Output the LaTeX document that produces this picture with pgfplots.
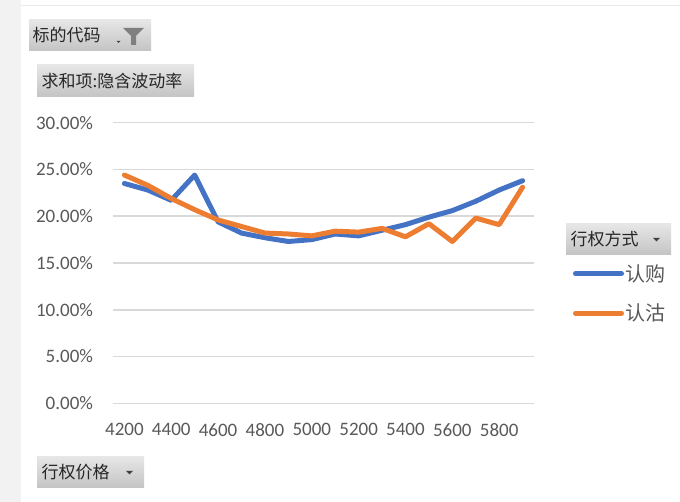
\documentclass[border=0pt]{standalone}
\usepackage{pgfplots}
\pgfplotsset{compat=1.18}
\usepackage{fontspec}
\setmainfont{Carlito}
\newfontfamily\cjk{Noto Sans CJK SC}
\definecolor{cblue}{HTML}{4472C4}
\definecolor{corange}{HTML}{ED7D31}
\definecolor{tickgray}{HTML}{595959}
\definecolor{gridgray}{HTML}{D9D9D9}
\definecolor{btntop}{HTML}{E6E6E6}
\definecolor{btnbot}{HTML}{C4C4C4}
\definecolor{btntext}{HTML}{262626}
\definecolor{strip}{HTML}{F2F2F2}
\definecolor{icongray}{HTML}{7F7F7F}
\definecolor{arrowgray}{HTML}{404040}

\pgfplotstableread{
x call put
4200 23.5 24.4
4300 22.8 23.3
4400 21.7 21.9
4500 24.4 20.7
4600 19.4 19.6
4700 18.2 18.9
4800 17.7 18.2
4900 17.3 18.1
5000 17.5 17.9
5100 18.1 18.4
5200 17.9 18.3
5300 18.5 18.7
5400 19.1 17.8
5500 19.9 19.2
5600 20.6 17.3
5700 21.6 19.8
5800 22.8 19.1
5900 23.8 23.1
}\ivdata

\begin{document}
\begin{tikzpicture}[x=1pt,y=1pt]
\useasboundingbox (0,0) rectangle (680,502);
\fill[white] (0,0) rectangle (680,502);
\fill[strip] (0,0) rectangle (20.7,502);
\draw[line width=1pt, color=black!8] (20.7,496) -- (680,496);
% button 1
\shade[top color=btntop, bottom color=btnbot] (29,451) rectangle (151,482);
\node[anchor=west, inner sep=0, text=btntext, font=\cjk\fontsize{17pt}{20pt}\selectfont] at (32.5,466.5) {标的代码};
\fill[icongray] (123,474) -- (144,474) -- (136,466) -- (136,457) -- (131,457) -- (131,466) -- cycle;
\fill[arrowgray] (116.5,461) -- (120.5,461) -- (118.5,459) -- cycle;
% button 2
\shade[top color=btntop, bottom color=btnbot] (37,405) rectangle (194,437);
\node[anchor=west, inner sep=0, text=btntext, font=\cjk\fontsize{17pt}{20pt}\selectfont] at (41.5,421) {求和项:隐含波动率};
% button 3
\shade[top color=btntop, bottom color=btnbot] (37,14) rectangle (144,45);
\node[anchor=west, inner sep=0, text=btntext, font=\cjk\fontsize{17pt}{20pt}\selectfont] at (41.5,29.5) {行权价格};
\fill[arrowgray] (126,31) -- (133,31) -- (129.5,27.5) -- cycle;
% button 4
\shade[top color=btntop, bottom color=btnbot] (566,247) rectangle (671,278);
\node[anchor=west, inner sep=0, text=btntext, font=\cjk\fontsize{17pt}{20pt}\selectfont] at (570.5,262.5) {行权方式};
\fill[arrowgray] (653,264) -- (660,264) -- (656.5,260.5) -- cycle;

\begin{axis}[
  at={(112.7pt,98.7pt)}, anchor=south west,
  scale only axis, width=421.6pt, height=280.6pt,
  xmin=4150, xmax=5950, ymin=0, ymax=30,
  axis line style={draw=none},
  xtick={4200,4400,...,5800},
  xticklabels={4200,4400,4600,4800,5000,5200,5400,5600,5800},
  ytick={0,5,...,30},
  yticklabels={0.00\%,5.00\%,10.00\%,15.00\%,20.00\%,25.00\%,30.00\%},
  major tick length=0pt,
  tick style={draw=none},
  ymajorgrids,
  grid style={gridgray, line width=1.5pt},
  tick label style={font=\fontsize{19pt}{22pt}\selectfont, text=tickgray, inner sep=0pt},
  yticklabel style={anchor=east, xshift=-19.5pt},
  xticklabel style={anchor=center, yshift=-26.5pt},
  /pgf/number format/assume math mode=true,
  clip=false,
  legend style={draw=none, fill=none, inner sep=0pt, outer sep=0pt,
    at={(axis description cs:1.0918,0.3913)}, anchor=west,
    row sep=21pt, column sep=1pt,
    nodes={inner sep=0pt, text=tickgray, font=\cjk\fontsize{20pt}{24pt}\selectfont}},
  legend cell align=left,
  legend image code/.code={\draw[#1, line cap=round] (0pt,0pt) -- (46pt,0pt);},
]
\addplot[cblue, line width=5pt, line join=round, line cap=round] table[x=x,y=call] {\ivdata};
\addlegendentry{认购}
\addplot[corange, line width=5pt, line join=round, line cap=round] table[x=x,y=put] {\ivdata};
\addlegendentry{认沽}
\end{axis}
\end{tikzpicture}
\end{document}
